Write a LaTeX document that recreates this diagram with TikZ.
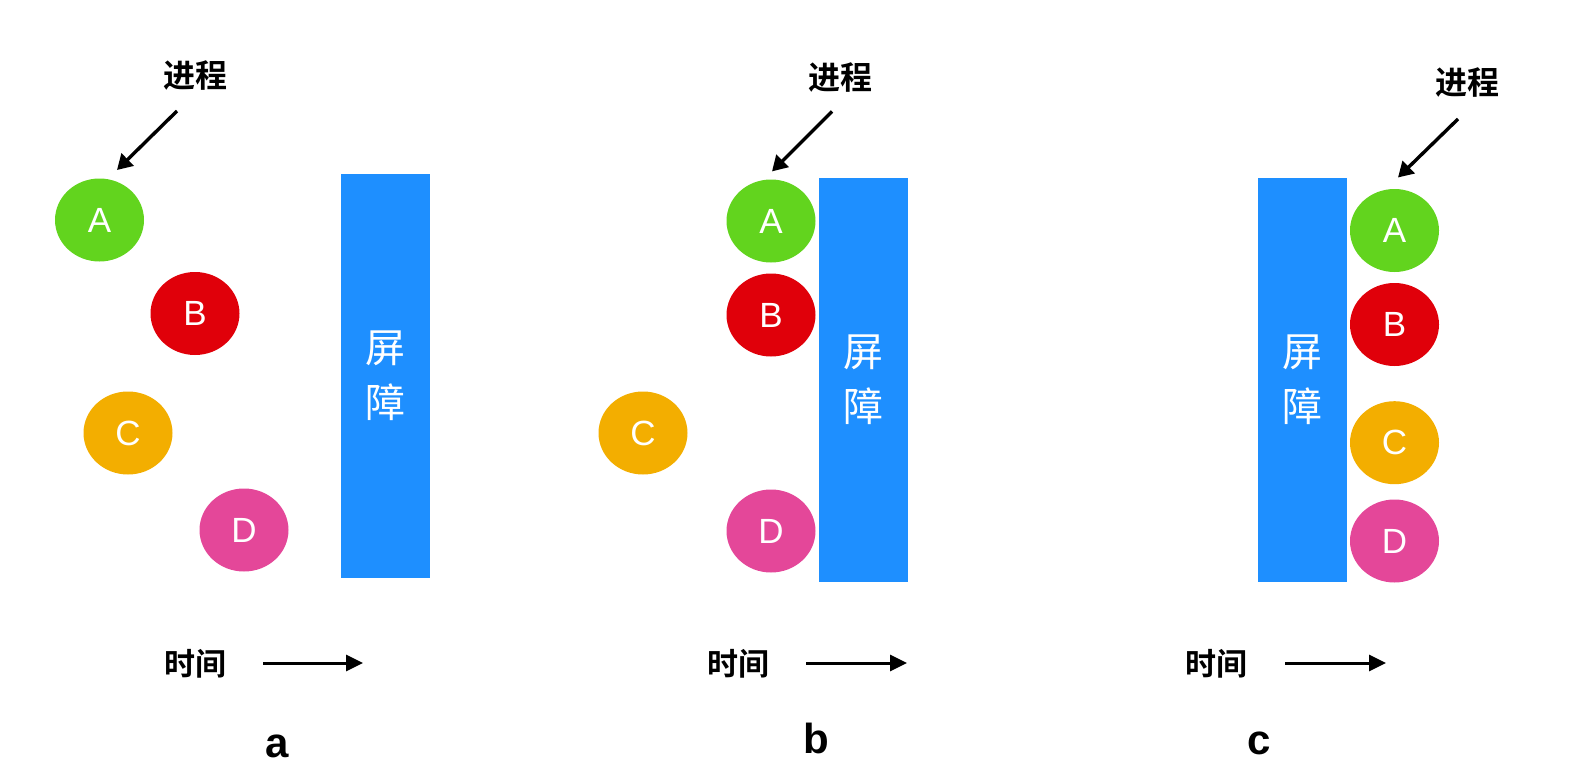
\documentclass[tikz,border=0pt]{standalone}
\usepackage{fontspec}
\setmainfont{Liberation Sans}
\newfontfamily\cjk{Noto Sans CJK SC}
\newfontfamily\cjkb{Noto Sans CJK SC Bold}
\usetikzlibrary{arrows.meta,shapes.geometric}
\definecolor{cA}{RGB}{98,212,30}
\definecolor{cB}{RGB}{224,0,10}
\definecolor{cC}{RGB}{243,174,0}
\definecolor{cD}{RGB}{228,71,153}
\definecolor{cBar}{RGB}{30,143,255}
\begin{document}
\begin{tikzpicture}[x=1pt,y=-1pt,
  proc/.style={ellipse, minimum width=89pt, minimum height=83pt, inner sep=0pt, text=white, font=\fontsize{35}{35}\selectfont},
  barrier/.style={fill=cBar, minimum width=89pt, minimum height=404.5pt, inner sep=0pt, text=white, align=center, font=\cjk\fontsize{40}{55}\selectfont},
  plabel/.style={inner sep=0pt, font=\cjkb\fontsize{32}{32}\selectfont},
  tlabel/.style={inner sep=0pt, font=\cjkb\fontsize{31}{31}\selectfont},
  ptr/.style={line width=3.4pt, -{Triangle[length=15pt,width=17pt]}},
  tarrow/.style={line width=3pt, -{Triangle[length=17pt,width=16pt]}},
  sub/.style={inner sep=0pt, anchor=base, font=\bfseries\fontsize{42}{42}\selectfont}
]
\useasboundingbox (0,0) rectangle (1596,784);

% ---- panel a ----
\node[plabel] (pa) at (195,76) {进程};
\coordinate (pa1) at (177,111);
\coordinate (pa2) at (117,170);
\draw[ptr] (pa1) -- (pa2);
\node[proc, fill=cA] (aA) at (99.5,220) {A};
\node[proc, fill=cB] (aB) at (195,313.5) {B};
\node[proc, fill=cC] (aC) at (128,433) {C};
\node[proc, fill=cD] (aD) at (244,530) {D};
\node[barrier, minimum height=403.5pt] (barA) at (385.5,375.75) {屏\\障};
\node[tlabel] (ta) at (195,664) {时间};
\coordinate (ta1) at (263,663);
\coordinate (ta2) at (363,663);
\draw[tarrow] (ta1) -- (ta2);
\node[sub] (la) at (277,757) {a};

% ---- panel b ----
\node[plabel] (pb) at (840,77) {进程};
\coordinate (pb1) at (832,111.4);
\coordinate (pb2) at (772,171.4);
\draw[ptr] (pb1) -- (pb2);
\node[proc, fill=cA] (bA) at (771,221) {A};
\node[proc, fill=cB] (bB) at (771,315) {B};
\node[proc, fill=cC] (bC) at (643,433) {C};
\node[proc, fill=cD] (bD) at (771,531) {D};
\node[barrier] (barB) at (863,379.75) {屏\\障};
\node[tlabel] (tb) at (738,664) {时间};
\coordinate (tb1) at (806,663);
\coordinate (tb2) at (907,663);
\draw[tarrow] (tb1) -- (tb2);
\node[sub] (lb) at (816,753) {b};

% ---- panel c ----
\node[plabel] (pc) at (1467,83) {进程};
\coordinate (pc1) at (1458,119);
\coordinate (pc2) at (1398,177.5);
\draw[ptr] (pc1) -- (pc2);
\node[proc, fill=cA] (cA) at (1394.5,230.5) {A};
\node[proc, fill=cB] (cB) at (1394.5,324.5) {B};
\node[proc, fill=cC] (cC) at (1394.5,442.7) {C};
\node[proc, fill=cD] (cD) at (1394.5,541) {D};
\node[barrier] (barC) at (1302.5,379.75) {屏\\障};
\node[tlabel] (tc) at (1216,664) {时间};
\coordinate (tc1) at (1285,663);
\coordinate (tc2) at (1386,663);
\draw[tarrow] (tc1) -- (tc2);
\node[sub] (lc) at (1259,754) {c};
\end{tikzpicture}
\end{document}
